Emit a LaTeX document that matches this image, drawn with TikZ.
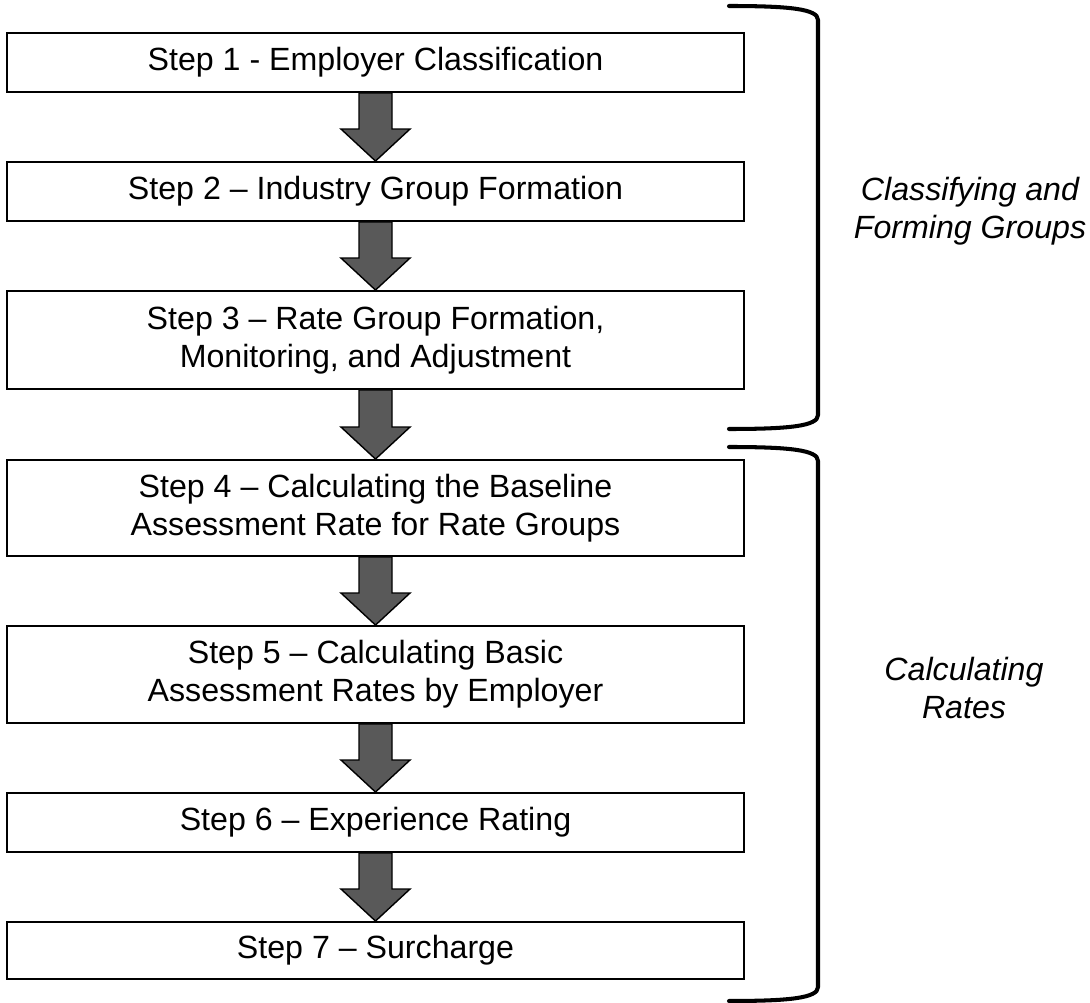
\documentclass[tikz,border=0pt]{standalone}
\usepackage{fontspec}
\setmainfont{Liberation Sans}
\usepackage{tikz}
\usetikzlibrary{calc}

\begin{document}
\begin{tikzpicture}[x=0.02cm,y=-0.02cm]
\tikzstyle{stepbox}=[draw,line width=1.1pt,minimum width=14.74cm,align=center,inner sep=0pt,font=\fontsize{18.3}{21.5}\selectfont]
\tikzstyle{flowarrow}=[fill={rgb,255:red,89;green,89;blue,89},draw=black,line width=0.8pt,line join=miter]
\tikzstyle{brace}=[line width=2.3pt,line cap=round]
\tikzstyle{grouplabel}=[align=center,font=\fontsize{18.3}{21.5}\selectfont\itshape]
\useasboundingbox (0,0) rectangle (1090,1003);
% steps
\node [stepbox, minimum height=1.18cm] (s1) at (375.5,62.5) {Step 1 - Employer Classification};
\node [stepbox, minimum height=1.18cm] (s2) at (375.5,191.5) {Step 2 -- Industry Group Formation};
\node [stepbox, minimum height=1.96cm] (s3) at (375.5,340) {Step 3 -- Rate Group Formation,\\ Monitoring, and Adjustment};
\node [stepbox, minimum height=1.92cm] (s4) at (375.5,508) {Step 4 -- Calculating the Baseline\\Assessment Rate for Rate Groups};
\node [stepbox, minimum height=1.94cm] (s5) at (375.5,674.5) {Step 5 -- Calculating Basic\\Assessment Rates by Employer};
\node [stepbox, minimum height=1.18cm] (s6) at (375.5,822.5) {Step 6 -- Experience Rating};
\node [stepbox, minimum height=1.14cm] (s7) at (375.5,950.5) {Step 7 -- Surcharge};
% block arrows
\foreach \a/\b in {s1/s2,s2/s3,s3/s4,s4/s5,s5/s6,s6/s7} {
\draw [flowarrow] ($(\a.south)+(-16.5,0)$) -- ($(\a.south)+(16.5,0)$) -- ($(\b.north)+(16.5,-32)$) -- ($(\b.north)+(34.5,-32)$) -- (\b.north) -- ($(\b.north)+(-34.5,-32)$) -- ($(\b.north)+(-16.5,-32)$) -- cycle;
}
% brackets
\draw [brace] (729,6) .. controls (790,6) and (818,9) .. (818,20) -- (818,415) .. controls (818,426) and (790,429) .. (729,429);
\draw [brace] (729,447) .. controls (790,447) and (818,450) .. (818,461) -- (818,987) .. controls (818,998) and (790,1001) .. (729,1001);
\node [grouplabel] (grp1) at (970,211) {Classifying and\\Forming Groups};
\node [grouplabel] (grp2) at (964,688) {Calculating\\Rates};
\end{tikzpicture}
\end{document}
